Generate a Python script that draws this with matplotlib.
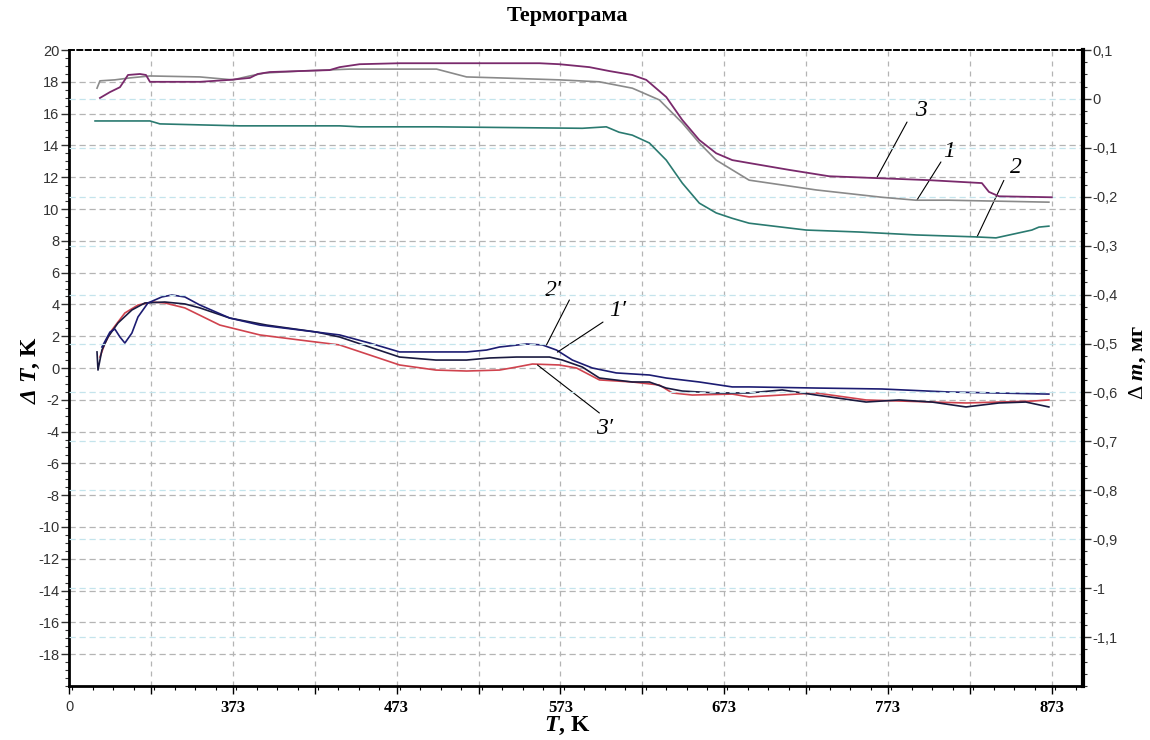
import numpy as np
import matplotlib
matplotlib.use("Agg")
import matplotlib.pyplot as plt
from matplotlib.ticker import MultipleLocator, FixedLocator

plt.rcParams['font.family'] = ['Liberation Sans', 'DejaVu Sans']
plt.rcParams['mathtext.fontset'] = 'custom'
plt.rcParams['mathtext.rm'] = 'Liberation Serif'
plt.rcParams['mathtext.it'] = 'Liberation Serif:italic'
plt.rcParams['mathtext.bf'] = 'Liberation Serif:bold'
plt.rcParams['mathtext.bfit'] = 'Liberation Serif:italic:bold'

# --- mass curves (right axis, mg) ---
t_m3 = [291.9, 298.0, 304.1, 307.1, 309.0, 316.3, 320.0, 322.4, 352.9, 371.2, 383.4, 388.2, 395.6,
        432.1, 438.2, 450.4, 474.8, 560.2, 572.4, 590.7, 602.9, 616.9, 625.4, 637.6, 647.4, 657.8,
        668.1, 677.9, 688.2, 712.6, 737.0, 767.5, 798.0, 830.3, 834.6, 840.7, 873.0]
m3 = [0.002, 0.014, 0.024, 0.039, 0.049, 0.051, 0.049, 0.035, 0.035, 0.039, 0.043, 0.051, 0.055,
      0.059, 0.065, 0.071, 0.073, 0.073, 0.071, 0.065, 0.057, 0.049, 0.039, 0.004, -0.043, -0.084,
      -0.111, -0.125, -0.131, -0.145, -0.158, -0.162, -0.166, -0.172, -0.190, -0.199, -0.201]

t_m1 = [290.1, 291.9, 301.0, 310.2, 322.4, 352.9, 373.0, 383.4, 392.5, 413.9, 444.3, 497.4, 515.7,
        535.8, 572.4, 596.8, 616.9, 633.4, 647.4, 657.8, 668.1, 677.9, 688.2, 729.1, 769.3, 790.1,
        810.2, 871.2]
m1 = [0.022, 0.037, 0.039, 0.043, 0.047, 0.045, 0.039, 0.047, 0.053, 0.057, 0.061, 0.061, 0.045,
      0.043, 0.039, 0.035, 0.022, -0.002, -0.049, -0.090, -0.125, -0.145, -0.166, -0.186, -0.201,
      -0.207, -0.207, -0.211]

t_m2 = [288.9, 322.4, 328.5, 352.9, 377.3, 438.2, 450.4, 497.0, 586.4, 601.0, 608.8, 616.9, 627.3,
        637.6, 647.4, 657.8, 668.1, 677.9, 688.2, 723.0, 755.3, 790.1, 826.7, 838.9, 860.8, 865.1,
        871.2]
m2 = [-0.045, -0.045, -0.051, -0.053, -0.055, -0.055, -0.057, -0.057, -0.060, -0.057, -0.068,
      -0.074, -0.090, -0.125, -0.172, -0.213, -0.233, -0.244, -0.254, -0.268, -0.272, -0.278,
      -0.282, -0.284, -0.268, -0.262, -0.260]

# --- DTA curves (left axis, K) ---
t_d2 = [293.1, 298.0, 301.0, 304.1, 307.1, 311.4, 315.1, 321.2, 329.7, 335.8, 343.7, 352.9, 371.2,
        389.5, 413.9, 438.2, 456.5, 474.8, 515.7, 527.9, 535.8, 552.3, 562.0, 570.6, 580.3, 592.5,
        607.1, 627.3, 637.6, 657.8, 677.9, 688.2, 729.1, 769.3, 810.2, 871.2]
d2 = [1.32, 2.26, 2.45, 1.95, 1.57, 2.20, 3.21, 4.09, 4.47, 4.59, 4.47, 3.96, 3.14, 2.70, 2.39,
      2.08, 1.57, 1.01, 1.01, 1.13, 1.32, 1.51, 1.45, 1.13, 0.50, 0.00, -0.31, -0.44, -0.63, -0.88,
      -1.19, -1.19, -1.26, -1.32, -1.51, -1.64]

t_d1 = [290.1, 290.7, 293.1, 296.8, 302.9, 311.4, 319.3, 331.5, 343.7, 352.9, 371.2, 393.7, 424.2,
        438.2, 456.5, 474.8, 497.0, 515.7, 529.7, 546.2, 566.3, 574.2, 586.4, 596.8, 616.9, 627.3,
        637.6, 647.4, 668.1, 688.2, 708.4, 729.1, 759.6, 779.7, 799.8, 820.6, 840.7, 857.1, 871.2]
d1 = [1.01, -0.13, 1.13, 1.95, 2.83, 3.65, 4.09, 4.15, 4.03, 3.78, 3.14, 2.70, 2.26, 1.95, 1.32,
      0.69, 0.50, 0.50, 0.63, 0.69, 0.69, 0.50, 0.06, -0.63, -0.88, -0.88, -1.26, -1.45, -1.57,
      -1.57, -1.38, -1.70, -2.14, -2.01, -2.14, -2.45, -2.20, -2.14, -2.45]

t_d3 = [291.9, 295.0, 299.2, 307.1, 315.1, 323.6, 331.5, 343.7, 365.1, 389.5, 413.9, 438.2, 456.5,
        474.8, 497.0, 515.7, 535.8, 546.2, 555.9, 572.4, 582.8, 596.8, 616.9, 633.4, 641.3, 653.5,
        677.9, 688.2, 729.1, 759.6, 799.8, 820.6, 860.8, 871.2]
d3 = [0.69, 1.57, 2.39, 3.46, 3.96, 4.15, 4.09, 3.78, 2.70, 2.08, 1.76, 1.45, 0.82, 0.19, -0.13,
      -0.19, -0.13, 0.06, 0.25, 0.19, 0.00, -0.75, -0.88, -1.07, -1.57, -1.70, -1.64, -1.82, -1.57,
      -2.01, -2.14, -2.20, -2.08, -2.01]

x_ticks = [273, 323, 373, 423, 473, 523, 573, 623, 673, 723, 773, 823, 873]
x_labels = ['0', '', '373', '', '473', '', '573', '', '673', '', '773', '', '873']
left_ticks = list(range(-18, 21, 2))
right_ticks = [0.1, 0.0, -0.1, -0.2, -0.3, -0.4, -0.5, -0.6, -0.7, -0.8, -0.9, -1.0, -1.1]
right_labels = ['0,1', '0', '-0,1', '-0,2', '-0,3', '-0,4', '-0,5', '-0,6', '-0,7', '-0,8',
                '-0,9', '-1', '-1,1']

# label text, text position, line start, line end  (left axis units)
notes = [('3', (793, 16.2), (784.6, 15.47), (766.3, 12.0)),
         ('1', (810, 13.6), (805.3, 12.96), (790.7, 10.57)),
         ('2', (851, 12.6), (843.7, 11.8), (827.3, 8.24)),
         ('2\u2032', (569, 4.9), (578.5, 4.28), (564.5, 1.45)),
         ('1\u2032', (608, 3.6), (599.0, 2.89), (571.2, 1.0)),
         ('3\u2032', (600, -3.8), (596.8, -2.83), (559.0, 0.19))]

fig = plt.figure(figsize=(11.5, 7.4), dpi=100)
ax = fig.add_axes([0.06, 0.073, 0.8817, 0.8594])
ax2 = ax.twinx()

ax.set_xlim(273, 892)
ax.set_ylim(-20, 20)
ax2.set_ylim(-1.2, 0.1)

# grids
for v in left_ticks[:-1]:
    ax.axhline(v, color='#b4b4b4', lw=0.9, ls=(0, (5, 3)), zorder=0)
for v in x_ticks[1:]:
    ax.axvline(v, color='#b4b4b4', lw=0.9, ls=(0, (4, 4)), zorder=0)
for v in right_ticks[1:]:
    ax2.axhline(v, color='#c4e4ec', lw=0.9, ls=(0, (5, 3)), zorder=0)

ax.plot(t_d3, d3, color='#d0434e', lw=1.2, zorder=3)
ax.plot(t_d1, d1, color='#1a1a40', lw=1.2, zorder=3)
ax.plot(t_d2, d2, color='#1c1c72', lw=1.2, zorder=3)

ax2.plot(t_m2, m2, color='#2a7a70', lw=1.2)
ax2.plot(t_m1, m1, color='#8a8a8a', lw=1.2)
ax2.plot(t_m3, m3, color='#7a2a6c', lw=1.3)

for txt, tpos, p0, p1 in notes:
    ax.annotate('', xy=p1, xytext=p0, textcoords='data',
                arrowprops=dict(arrowstyle='-', color='k', lw=0.8, shrinkA=0, shrinkB=0))
    ax.text(tpos[0], tpos[1], txt, fontsize=17, fontstyle='italic',
            family=['Liberation Serif', 'DejaVu Serif'], ha='center', va='center')

# spines
for a in (ax, ax2):
    a.spines['top'].set_linestyle((0, (3, 2)))
    a.spines['top'].set_linewidth(1.2)
ax.spines['left'].set_linewidth(2)
ax.spines['bottom'].set_linewidth(2)
ax2.spines['right'].set_linewidth(3)
ax2.spines['left'].set_visible(False)
ax2.spines['bottom'].set_visible(False)

# ticks
ax.set_xticks(x_ticks, x_labels)
ax.xaxis.set_minor_locator(MultipleLocator(12.5))
ax.set_yticks(left_ticks, [str(v) for v in left_ticks])
ax.yaxis.set_minor_locator(MultipleLocator(0.5))
ax2.yaxis.set_major_locator(FixedLocator(right_ticks))
ax2.set_yticklabels(right_labels)
ax2.yaxis.set_minor_locator(MultipleLocator(0.025))

ax.tick_params(axis='y', which='major', length=6, width=1, labelsize=10.5, colors='#333333', pad=1)
ax.tick_params(axis='y', which='minor', length=3, width=0.8, colors='#333333')
ax.tick_params(axis='x', which='major', length=6, width=1, pad=4)
ax.tick_params(axis='x', which='minor', length=3, width=0.8)
ax2.tick_params(axis='y', which='major', length=6, width=1, labelsize=10.5, colors='#333333', pad=1)
ax2.tick_params(axis='y', which='minor', length=3, width=0.8, colors='#333333')

for i, lab in enumerate(ax.get_xticklabels()):
    if i == 0:
        lab.set_fontfamily('Liberation Sans')
        lab.set_fontsize(10.5)
        lab.set_color('#333333')
    else:
        lab.set_fontfamily('Liberation Serif')
        lab.set_fontweight('bold')
        lab.set_fontsize(12)

fig.text(567 / 1150, 1 - 16 / 740, 'Термограма', fontsize=16, fontweight='bold',
         family='Liberation Serif', ha='center', va='center')
fig.text(567 / 1150, 1 - 726 / 740, r'$\mathbfit{T}$, K', fontsize=17, fontweight='bold',
         family='Liberation Serif', ha='center', va='center')
fig.text(31 / 1150, 1 - 370 / 740, r'$\mathbfit{\Delta\ T}$, K', fontsize=17, fontweight='bold',
         family='Liberation Serif', ha='center', va='center', rotation=90)
fig.text(1138 / 1150, 1 - 362 / 740, r'$\Delta$ $\mathbfit{m}$, мг', fontsize=16,
         fontweight='bold', family='Liberation Serif', ha='center', va='center', rotation=90)

fig.savefig('out.png', dpi=100)
